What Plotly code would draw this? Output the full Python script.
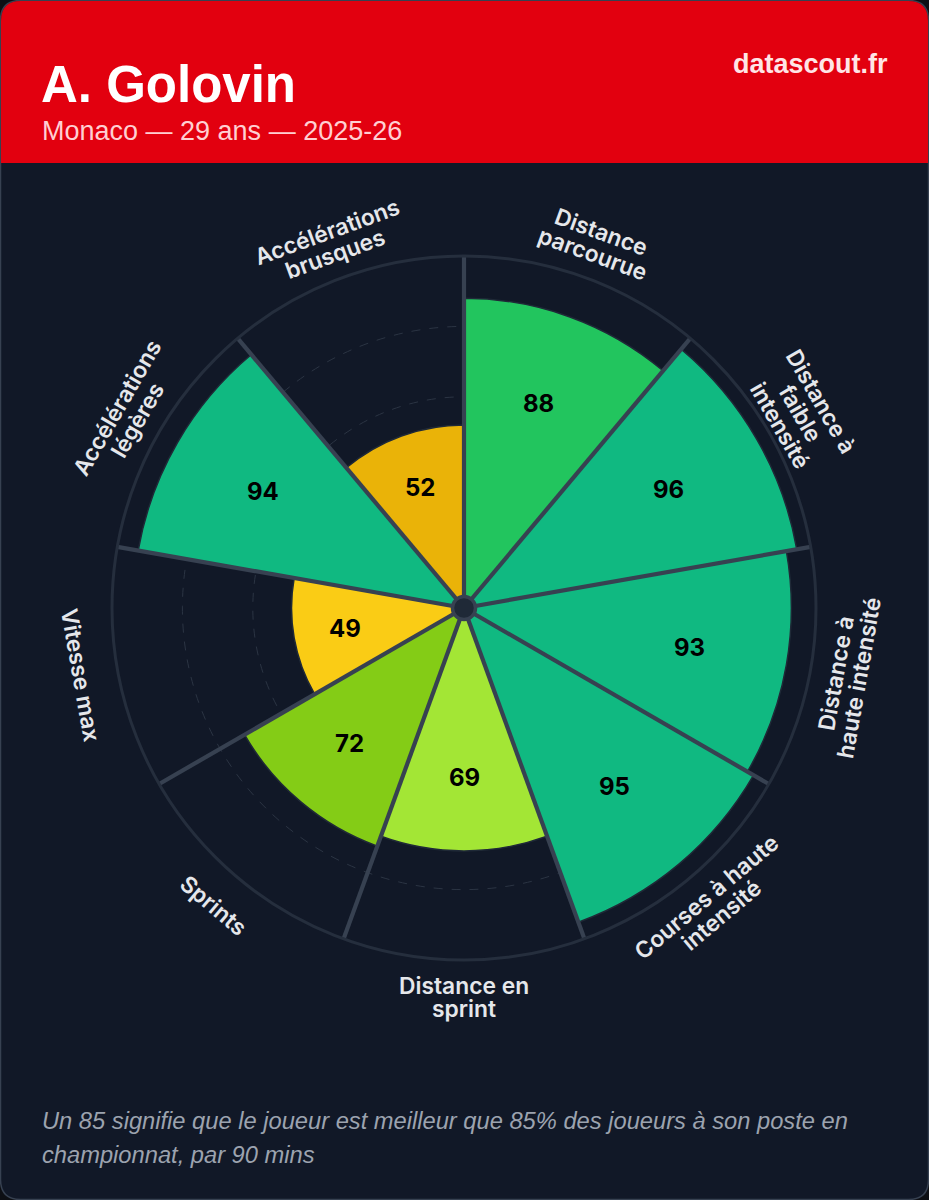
import math
import plotly.graph_objects as go

# =====================================================
# Data
# =====================================================
categories = [
    ["Distance", "parcourue"],
    ["Distance à", "faible", "intensité"],
    ["Distance à", "haute intensité"],
    ["Courses à haute", "intensité"],
    ["Distance en", "sprint"],
    ["Sprints"],
    ["Vitesse max"],
    ["Accélérations", "légères"],
    ["Accélérations", "brusques"],
]
values = [88, 96, 93, 95, 69, 72, 49, 94, 52]
colors = ["#22c55e", "#10b981", "#10b981", "#10b981", "#a3e635",
          "#84cc16", "#facc15", "#10b981", "#eab308"]
grid_ticks = [20, 40, 60, 80]

player = "A. Golovin"
subtitle = "Monaco — 29 ans — 2025-26"
site = "datascout.fr"
footnote = ["Un 85 signifie que le joueur est meilleur que 85% des joueurs à son poste en",
            "championnat, par 90 mins"]

# =====================================================
# Layout constants
# =====================================================
W, H = 929, 1200
CX, CY, R = 464, 608, 352
HEADER_H = 163
CORNER = 20
LABEL_R = 389
LABEL_LINE = 23.5
LINE_COL = "#374151"

step = 360 / len(values)
centers = [step * (i + 0.5) for i in range(len(values))]
edges = [step * i for i in range(len(values))]


def px(x):
    return x / W


def py(y):
    return 1 - y / H


def rounded_path(x0, y0, x1, y1, top=CORNER, bottom=CORNER):
    return (
        f"M {px(x0 + top)} {py(y0)} L {px(x1 - top)} {py(y0)} "
        f"Q {px(x1)} {py(y0)} {px(x1)} {py(y0 + top)} "
        f"L {px(x1)} {py(y1 - bottom)} Q {px(x1)} {py(y1)} {px(x1 - bottom)} {py(y1)} "
        f"L {px(x0 + bottom)} {py(y1)} Q {px(x0)} {py(y1)} {px(x0)} {py(y1 - bottom)} "
        f"L {px(x0)} {py(y0 + top)} Q {px(x0)} {py(y0)} {px(x0 + top)} {py(y0)} Z"
    )


def label_rotation(a):
    if a <= 90:
        return a
    if a <= 270:
        return a - 180
    return a - 360


fig = go.Figure()

# Bars
fig.add_trace(go.Barpolar(
    r=values, theta=centers, width=step,
    marker=dict(color=colors, line=dict(color="#1f2937", width=1.5)),
    hoverinfo="skip", showlegend=False,
))

# Sector separators
for e in edges:
    fig.add_trace(go.Scatterpolar(
        r=[0, 100], theta=[e, e], mode="lines",
        line=dict(color=LINE_COL, width=4.2),
        hoverinfo="skip", showlegend=False,
    ))

# Hub
fig.add_trace(go.Scatterpolar(
    r=[0], theta=[0], mode="markers",
    marker=dict(size=23, color="#1f2937", line=dict(color=LINE_COL, width=3.5)),
    hoverinfo="skip", showlegend=False,
))

annotations = []

# Values inside the wedges, at 70% of the bar length
for a, v in zip(centers, values):
    vr = v * 0.7 / 100 * R
    annotations.append(dict(
        x=px(CX + vr * math.sin(math.radians(a))),
        y=py(CY - vr * math.cos(math.radians(a)) - 0.5),
        xref="paper", yref="paper", text=str(v), showarrow=False,
        xanchor="center", yanchor="middle",
        font=dict(family="Inter", size=24, color="#000000", weight=700),
    ))

# Rotated category labels, one annotation per line to control the leading
for a, lines in zip(centers, categories):
    t = label_rotation(a)
    lx = CX + LABEL_R * math.sin(math.radians(a))
    ly = CY - LABEL_R * math.cos(math.radians(a))
    for i, line in enumerate(lines):
        off = (i - (len(lines) - 1) / 2) * LABEL_LINE
        x = lx - off * math.sin(math.radians(t))
        y = ly + off * math.cos(math.radians(t))
        annotations.append(dict(
            x=px(x), y=py(y), xref="paper", yref="paper", text=line,
            showarrow=False, xanchor="center", yanchor="middle", textangle=t,
            font=dict(family="Inter", size=22.8, color="#e5e7eb", weight=600),
        ))

# Header and footer text
annotations += [
    dict(x=px(39), y=py(84), xref="paper", yref="paper", text=player, showarrow=False,
         xanchor="left", yanchor="middle",
         font=dict(family="Liberation Sans", size=51, color="#ffffff", weight=700)),
    dict(x=px(40), y=py(131), xref="paper", yref="paper", text=subtitle, showarrow=False,
         xanchor="left", yanchor="middle",
         font=dict(family="Liberation Sans", size=27, color="#ffcfd2")),
    dict(x=px(890), y=py(64), xref="paper", yref="paper", text=site, showarrow=False,
         xanchor="right", yanchor="middle",
         font=dict(family="Liberation Sans", size=27, color="#ffe5e6", weight=700)),
]
for line, y in zip(footnote, [1121, 1155]):
    annotations.append(dict(
        x=px(40), y=py(y), xref="paper", yref="paper", text=line, showarrow=False,
        xanchor="left", yanchor="middle",
        font=dict(family="Liberation Sans", size=23.7, color="#9ca3af", style="italic"),
    ))

shapes = [
    dict(type="path", xref="paper", yref="paper", layer="below",
         path=rounded_path(0.5, 0.5, W - 0.5, H - 0.5),
         fillcolor="#111827", line=dict(color=LINE_COL, width=1.5)),
    dict(type="path", xref="paper", yref="paper", layer="below",
         path=rounded_path(1, 1, W - 1, HEADER_H, bottom=0),
         fillcolor="#e2000f", line=dict(width=0)),
]

fig.update_layout(
    width=W, height=H,
    margin=dict(l=0, r=0, t=0, b=0),
    paper_bgcolor="#0d0f14",
    plot_bgcolor="rgba(0,0,0,0)",
    showlegend=False,
    shapes=shapes,
    annotations=annotations,
    polar=dict(
        domain=dict(x=[px(CX - R), px(CX + R)], y=[py(CY + R), py(CY - R)]),
        bgcolor="rgba(0,0,0,0)",
        radialaxis=dict(
            range=[0, 100], tickvals=grid_ticks, showticklabels=False, ticks="",
            showline=False, showgrid=True, gridcolor="#2b3443", gridwidth=1, griddash="dash",
        ),
        angularaxis=dict(
            direction="clockwise", rotation=90, thetaunit="degrees",
            showgrid=False, showticklabels=False, ticks="",
            showline=True, linecolor="#252e3d", linewidth=3,
        ),
    ),
)

fig.write_html("out.html", config=dict(displayModeBar=False),
               post_script="document.body.style.margin='0';")
